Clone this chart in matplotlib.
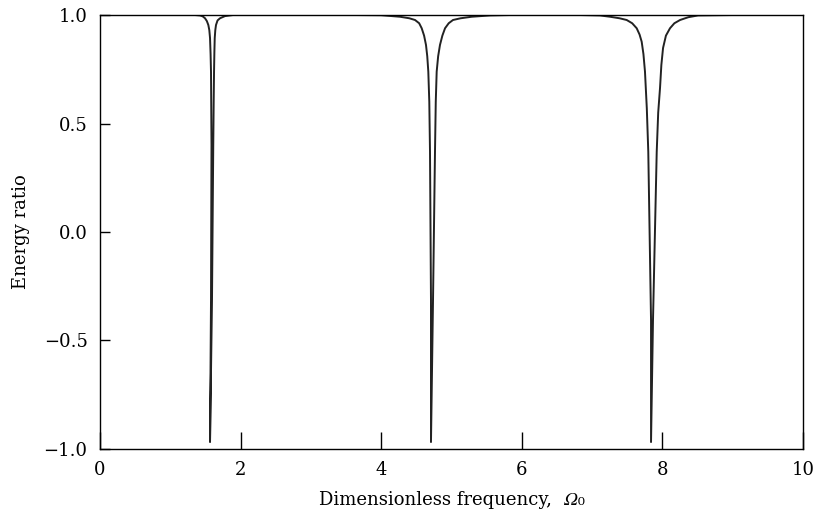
import numpy as np
import matplotlib
matplotlib.use("Agg")
import matplotlib.pyplot as plt

plt.rcParams['font.family'] = ['DejaVu Serif', 'STIXGeneral']

# energy ratio curve, one dip at a time
dip1_x = [1.351, 1.422, 1.460, 1.494, 1.520, 1.541, 1.555, 1.565, 1.573, 1.579,
          1.586, 1.579, 1.565, 1.593, 1.611, 1.617, 1.622, 1.627, 1.632, 1.640,
          1.650, 1.672, 1.707, 1.778, 1.892]
dip1_y = [1.0, 0.998, 0.994, 0.985, 0.972, 0.954, 0.930, 0.894, 0.820, 0.737,
          0.401, -0.313, -0.968, -0.313, 0.401, 0.600, 0.737, 0.830, 0.894, 0.930,
          0.954, 0.975, 0.985, 0.995, 1.0]

dip2_x = [3.627, 4.000, 4.267, 4.400, 4.481, 4.540, 4.576, 4.610, 4.637, 4.655,
          4.670, 4.684, 4.694, 4.708, 4.708, 4.737, 4.765, 4.776, 4.789, 4.810,
          4.836, 4.870, 4.908, 4.960, 5.021, 5.130, 5.287, 5.548, 5.832]
dip2_y = [1.0, 0.999, 0.992, 0.985, 0.977, 0.962, 0.939, 0.905, 0.862, 0.810,
          0.739, 0.600, 0.370, -0.313, -0.968, -0.313, 0.370, 0.600, 0.739, 0.810,
          0.862, 0.905, 0.939, 0.962, 0.977, 0.985, 0.992, 0.998, 1.0]

dip3_x = [6.828, 7.112, 7.255, 7.390, 7.492, 7.570, 7.634, 7.675, 7.705, 7.730,
          7.752, 7.778, 7.799, 7.838, 7.838, 7.866, 7.919, 7.940, 7.966, 7.985,
          8.009, 8.050, 8.108, 8.170, 8.251, 8.370, 8.507, 9.004]
dip3_y = [1.0, 0.998, 0.992, 0.985, 0.977, 0.962, 0.939, 0.910, 0.877, 0.820,
          0.739, 0.570, 0.370, -0.406, -0.968, -0.406, 0.370, 0.550, 0.664, 0.770,
          0.848, 0.905, 0.939, 0.962, 0.977, 0.990, 0.998, 1.0]

xticks = [0, 2, 4, 6, 8, 10]
yticks = [-1.0, -0.5, 0.0, 0.5, 1.0]

x = dip1_x + dip2_x + dip3_x
y = dip1_y + dip2_y + dip3_y

fig = plt.figure(figsize=(8.15, 5.23), dpi=100)
ax = fig.add_axes([0.1227, 0.1415, 0.8626, 0.8298])
ax.plot(x, y, color='#222222', lw=1.4, solid_joinstyle='round')

ax.set_xlim(0, 10)
ax.set_ylim(-1.0, 1.0)
ax.set_xticks(xticks)
ax.set_yticks(yticks)
ax.set_xticklabels([str(t) for t in xticks])
ax.set_yticklabels(['\u22121.0', '\u22120.5', '0.0', '0.5', '1.0'])
ax.tick_params(axis='x', direction='in', length=12, width=1, pad=9,
               labelsize=13, top=False)
ax.tick_params(axis='y', direction='in', length=7, width=1, pad=9,
               labelsize=13, right=False)
for s in ax.spines.values():
    s.set_linewidth(1.0)

# italic capital omega with subscript zero
ax.set_xlabel('Dimensionless frequency,  \U0001D6FA\u2080', fontsize=13, labelpad=8)
ax.set_ylabel('Energy ratio', fontsize=13, labelpad=10)

fig.savefig('out.png', dpi=100)
